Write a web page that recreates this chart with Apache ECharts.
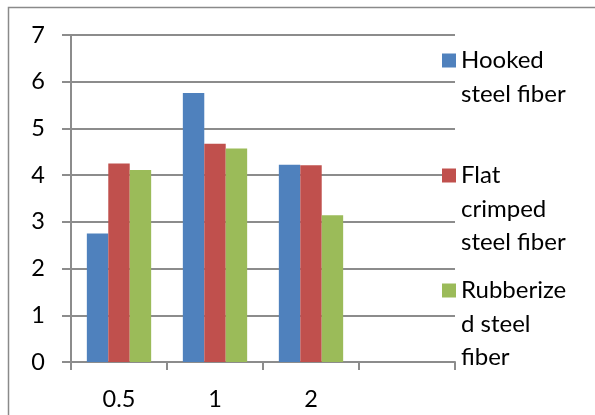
<!DOCTYPE html>
<html>
<head>
<meta charset="utf-8">
<script src="https://cdn.jsdelivr.net/npm/echarts@6/dist/echarts.min.js"></script>
<style>
  html, body { margin: 0; padding: 0; background: #fff; }
  #chart { width: 595px; height: 415px; }
</style>
</head>
<body>
<div id="chart"></div>
<script>
// Fiber content categories (last slot left empty)
const categories = ['0.5', '1', '2', ''];

// Series values per category
const hooked = [2.75, 5.76, 4.22, null];
const flatCrimped = [4.25, 4.67, 4.21, null];
const rubberized = [4.11, 4.57, 3.14, null];

const seriesNames = ['Hooked steel fiber', 'Flat crimped steel fiber', 'Rubberized steel fiber'];
const legendLabels = ['Hooked\nsteel fiber', 'Flat\ncrimped\nsteel fiber', 'Rubberize\nd steel\nfiber'];

const yTicks = { min: 0, max: 7, interval: 1 };

const FONT = 'Lato';
const FS = 23.5;
const LEGEND_FS = 24;
const LH = 33.5;
const ICON = 14;
const GRIDC = '#8c8c8c';
const colors = ['#4F81BD', '#C0504D', '#9BBB59'];

// Legend entries: the label block is padded with blank lines on top so
// that its first line lines up with the colour swatch
function legendFor(i, iconCenter) {
  const lines = legendLabels[i].split('\n').length;
  const padded = '\n'.repeat(lines - 1) + legendLabels[i];
  return {
    data: [seriesNames[i]],
    left: 442,
    top: iconCenter - ((2 * lines - 1) * LH) / 2,
    padding: 0,
    itemWidth: ICON,
    itemHeight: ICON,
    icon: 'rect',
    selectedMode: false,
    formatter: () => padded,
    textStyle: {
      fontFamily: FONT,
      fontSize: LEGEND_FS,
      lineHeight: LH,
      color: '#000'
    }
  };
}

const chart = echarts.init(document.getElementById('chart'), null, { renderer: 'canvas' });

chart.setOption({
  animation: false,
  color: colors,
  textStyle: { fontFamily: FONT },
  graphic: [{
    type: 'rect',
    shape: { x: 8.5, y: 7.5, width: 700, height: 500 },
    style: { fill: 'none', stroke: '#8a8a8a', lineWidth: 1.5 },
    silent: true
  }],
  grid: { left: 71, right: 140, top: 35, bottom: 53 },
  legend: [legendFor(0, 60.5), legendFor(1, 175.5), legendFor(2, 290.5)],
  xAxis: {
    type: 'category',
    data: categories,
    boundaryGap: true,
    axisLine: { lineStyle: { color: GRIDC, width: 2 } },
    axisTick: { show: true, interval: 0, length: 8, lineStyle: { color: GRIDC, width: 2 } },
    axisLabel: { color: '#000', fontFamily: FONT, fontSize: FS, margin: 25, interval: 0 }
  },
  yAxis: {
    type: 'value',
    min: yTicks.min,
    max: yTicks.max,
    interval: yTicks.interval,
    axisLine: { show: true, lineStyle: { color: GRIDC, width: 2 } },
    axisTick: { show: true, length: 9, lineStyle: { color: GRIDC, width: 2 } },
    axisLabel: { color: '#000', fontFamily: FONT, fontSize: FS, margin: 26 },
    splitLine: { lineStyle: { color: GRIDC, width: 2 } }
  },
  series: [
    { name: seriesNames[0], type: 'bar', data: hooked, barGap: 0, barCategoryGap: '33%' },
    { name: seriesNames[1], type: 'bar', data: flatCrimped, barGap: 0, barCategoryGap: '33%' },
    { name: seriesNames[2], type: 'bar', data: rubberized, barGap: 0, barCategoryGap: '33%' }
  ]
});
</script>
</body>
</html>
